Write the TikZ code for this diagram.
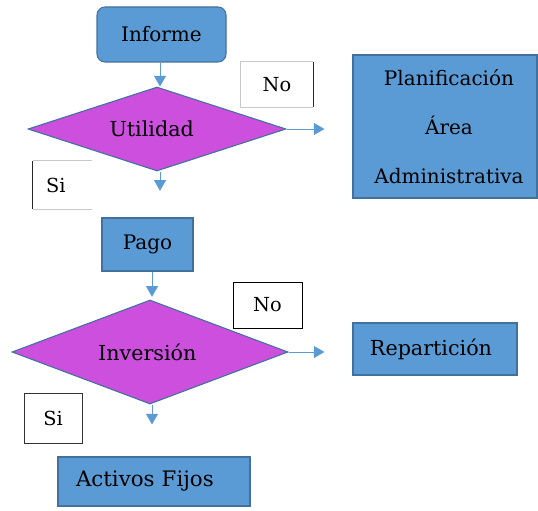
\documentclass[tikz,border=0pt]{standalone}
\usepackage{fontspec}
\setmainfont{DejaVu Serif}
\usetikzlibrary{shapes.geometric,arrows.meta}
\definecolor{boxblue}{HTML}{5B9BD5}
\definecolor{edgeblue}{HTML}{41719C}
\definecolor{decmag}{HTML}{CC4FDD}
\definecolor{lightedge}{HTML}{C8C8C8}
\tikzset{
  procbox/.style={rectangle, fill=boxblue, draw=edgeblue, line width=0.8pt, inner sep=0pt, font=\fontsize{15pt}{18pt}\selectfont},
  decision/.style={diamond, fill=decmag, draw=edgeblue, line width=0.8pt, inner sep=0pt, aspect=1, font=\fontsize{15.5pt}{18pt}\selectfont},
  tagbox/.style={rectangle, fill=white, inner sep=0pt, font=\fontsize{14.5pt}{17pt}\selectfont},
  flow/.style={draw=boxblue, line width=0.6pt, -{Triangle[width=9pt,length=8pt]}}
}
\begin{document}
\begin{tikzpicture}[x=0.75pt,y=-0.75pt]
\useasboundingbox[fill=white] (0,0) rectangle (538,510);

% process boxes
\node[procbox, rounded corners=6pt, minimum width=96.75pt, minimum height=41.25pt] (inf) at (161.5,34.5) {Informe};
\node[procbox, minimum width=68.25pt, minimum height=39.75pt] (pago) at (147.5,244.5) {Pago};
\node[procbox, minimum height=36.75pt, text width=117pt, inner xsep=13.5pt, align=left, font=\fontsize{16pt}{18pt}\selectfont] (act) at (154,481.5) {Activos Fijos};
\node[procbox, minimum width=138pt, minimum height=107.25pt, align=center, font=\fontsize{15pt}{36.75pt}\selectfont] (plan) at (445,126.5) {\hspace*{6pt}Planificación\\\hspace*{6pt}Área\\\hspace*{6pt}Administrativa};
\node[procbox, minimum width=123pt, minimum height=39pt, font=\fontsize{15.5pt}{18pt}\selectfont] (rep) at (435,349) {\hspace*{-6pt}Repartición};

% decisions (zero-width labels so the diamond keeps its set size)
\node[decision, minimum width=193.5pt, minimum height=63pt] (util) at (157,129) {\makebox[0pt]{\hspace*{-8pt}Utilidad}};
\node[decision, minimum width=207pt, minimum height=78pt] (inv) at (150,352) {\makebox[0pt]{\hspace*{-4pt}Inversión}};

% answer tags
\node[tagbox, minimum width=54pt, minimum height=33.75pt] (no1) at (277,84.5) {No};
\draw[lightedge, line width=0.6pt] (no1.north east) -- (no1.north west) -- (no1.south west) -- (no1.south east);
\draw[black!85, line width=0.9pt] (no1.north east) -- (no1.south east);

\node[tagbox, minimum width=44.25pt, minimum height=36pt] (si1) at (62.5,185) {\hspace*{-10pt}Si};
\draw[lightedge, line width=0.6pt] (si1.north east) -- (si1.north west);
\draw[lightedge, line width=0.6pt] (si1.south west) -- (si1.south east);
\draw[black!85, line width=0.9pt] (si1.north west) -- (si1.south west);

\node[tagbox, draw=black, line width=0.7pt, minimum width=51.75pt, minimum height=34.5pt] (no2) at (267.5,305) {No};
\node[tagbox, draw=black!80, line width=0.7pt, minimum width=43.5pt, minimum height=37.5pt] (si2) at (53,418) {Si};

% connectors
\draw[flow] (inf.south -| 160,0) -- (util.north -| 160,0);
\draw[flow, shorten >=20pt] (util.south -| 160,0) -- (pago.north -| 160,0);
\draw[flow, shorten >=21pt] (util.east) -- (util.east -| plan.west);
\draw[flow, shorten >=2pt] (pago.south -| 152,0) -- (inv.north -| 152,0);
\draw[flow, shorten >=21pt] (inv.east) -- (inv.east -| rep.west);
\draw[flow, shorten >=24pt] (inv.south -| 152,0) -- (act.north -| 152,0);
\end{tikzpicture}
\end{document}
